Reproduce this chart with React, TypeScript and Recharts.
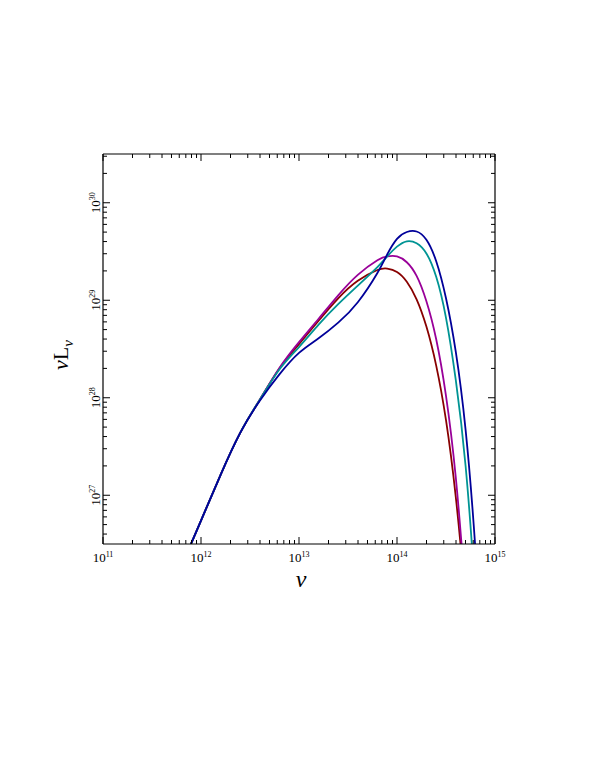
import { LineChart, Line, XAxis, YAxis } from "recharts"

// log10(nu) sample grid
const logNu = [
  11.8, 12.0, 12.2, 12.4, 12.6, 12.8, 13.0, 13.2, 13.4, 13.6, 13.8, 13.9, 14.0, 14.1, 14.2, 14.3,
  14.4, 14.5, 14.6, 14.7, 14.8, 14.9,
]

// log10(nu L_nu) for each curve
const redL = [
  26.27, 26.74, 27.21, 27.64, 27.98, 28.3, 28.55, 28.79, 29.02, 29.2, 29.31, 29.325, 29.29, 29.19,
  29.01, 28.73, 28.33, 27.77, 26.98, 25.9, 24.5, 22.8,
]
const purpleL = [
  26.27, 26.74, 27.21, 27.64, 27.98, 28.305, 28.57, 28.81, 29.05, 29.26, 29.41, 29.45, 29.45, 29.39,
  29.25, 28.99, 28.6, 28.02, 27.18, 25.95, 24.4, 22.5,
]
const tealL = [
  26.27, 26.74, 27.21, 27.64, 27.98, 28.29, 28.52, 28.75, 28.96, 29.15, 29.34, 29.45, 29.55, 29.605,
  29.585, 29.48, 29.24, 28.82, 28.18, 27.3, 25.95, 24.2,
]
const blueL = [
  26.27, 26.74, 27.21, 27.64, 27.97, 28.24, 28.46, 28.61, 28.77, 28.98, 29.28, 29.47, 29.63, 29.7,
  29.705, 29.62, 29.4, 29.02, 28.47, 27.67, 26.45, 24.8,
]

const X_DOMAIN: [number, number] = [11, 15]
const Y_DOMAIN: [number, number] = [26.5, 30.5]

const FONT = "'Liberation Serif', 'DejaVu Serif', serif"

function withMinors(lo: number, hi: number) {
  const out: number[] = []
  for (let d = Math.floor(lo); d <= Math.ceil(hi); d++) {
    for (let k = 1; k <= 9; k++) {
      const v = d + Math.log10(k)
      if (v >= lo - 1e-9 && v <= hi + 1e-9) out.push(v)
    }
  }
  return out
}

const xTicks = withMinors(X_DOMAIN[0], X_DOMAIN[1])
const yTicks = withMinors(Y_DOMAIN[0], Y_DOMAIN[1])

const isMajor = (v: number) => Math.abs(v - Math.round(v)) < 1e-6

const data = logNu.map((x, i) => ({
  x,
  red: redL[i],
  purple: purpleL[i],
  teal: tealL[i],
  blue: blueL[i],
}))

const MAJOR = 7
const MINOR = 4

const BottomTick = (props: any) => {
  const { x, y, payload } = props
  const major = isMajor(payload.value)
  return (
    <g>
      <line x1={x} x2={x} y1={y} y2={y - (major ? MAJOR : MINOR)} stroke="#000" strokeWidth={1} />
      {major && (
        <text x={x} y={y + 18} textAnchor="middle" fontSize={13} fontFamily={FONT} fill="#000">
          10
          <tspan dy={-5} fontSize={8}>
            {Math.round(payload.value)}
          </tspan>
        </text>
      )}
    </g>
  )
}

const TopTick = (props: any) => {
  const { x, y, payload } = props
  const major = isMajor(payload.value)
  return <line x1={x} x2={x} y1={y} y2={y + (major ? MAJOR : MINOR)} stroke="#000" strokeWidth={1} />
}

const LeftTick = (props: any) => {
  const { x, y, payload } = props
  const major = isMajor(payload.value)
  return (
    <g>
      <line x1={x} x2={x + (major ? MAJOR : MINOR)} y1={y} y2={y} stroke="#000" strokeWidth={1} />
      {major && (
        <text
          x={x - 3}
          y={y}
          transform={`rotate(-90, ${x - 3}, ${y})`}
          textAnchor="middle"
          fontSize={13}
          fontFamily={FONT}
          fill="#000"
        >
          10
          <tspan dy={-5} fontSize={8}>
            {Math.round(payload.value)}
          </tspan>
        </text>
      )}
    </g>
  )
}

const RightTick = (props: any) => {
  const { x, y, payload } = props
  const major = isMajor(payload.value)
  return <line x1={x} x2={x - (major ? MAJOR : MINOR)} y1={y} y2={y} stroke="#000" strokeWidth={1} />
}

const XLabel = (props: any) => {
  const vb = props.viewBox
  return (
    <text
      x={vb.x + vb.width / 2 + 2}
      y={vb.y + 43}
      textAnchor="middle"
      fontSize={24}
      fontStyle="italic"
      fontFamily={FONT}
      fill="#000"
    >
      ν
    </text>
  )
}

const YLabel = (props: any) => {
  const vb = props.viewBox
  const cx = vb.x + vb.width - 35
  const cy = vb.y + vb.height / 2 + 6
  return (
    <text
      x={cx}
      y={cy}
      transform={`rotate(-90, ${cx}, ${cy})`}
      textAnchor="middle"
      fontSize={22}
      fontFamily={FONT}
      fill="#000"
    >
      <tspan fontStyle="italic">ν</tspan>L
      <tspan fontSize={15} fontStyle="italic" dy={5}>
        ν
      </tspan>
    </text>
  )
}

export default function App() {
  return (
    <div style={{ position: "absolute", left: 0, top: 0, width: 595, height: 770, background: "#fff" }}>
      <LineChart width={595} height={770} data={data} margin={{ top: 153, right: 99, bottom: 225, left: 102 }}>
        <XAxis
          dataKey="x"
          type="number"
          domain={X_DOMAIN}
          ticks={xTicks}
          interval={0}
          allowDataOverflow
          height={1}
          tickSize={0}
          tickMargin={0}
          tick={<BottomTick />}
          axisLine={{ stroke: "#000", strokeWidth: 1.2 }}
          tickLine={false}
          label={<XLabel />}
        />
        <XAxis
          xAxisId="top"
          orientation="top"
          dataKey="x"
          type="number"
          domain={X_DOMAIN}
          ticks={xTicks}
          interval={0}
          allowDataOverflow
          height={1}
          tickSize={0}
          tickMargin={0}
          tick={<TopTick />}
          axisLine={{ stroke: "#000", strokeWidth: 1.2 }}
          tickLine={false}
        />
        <YAxis
          type="number"
          domain={Y_DOMAIN}
          ticks={yTicks}
          interval={0}
          allowDataOverflow
          width={1}
          tickSize={0}
          tickMargin={0}
          tick={<LeftTick />}
          axisLine={{ stroke: "#000", strokeWidth: 1.2 }}
          tickLine={false}
          label={<YLabel />}
        />
        <YAxis
          yAxisId="right"
          orientation="right"
          type="number"
          domain={Y_DOMAIN}
          ticks={yTicks}
          interval={0}
          allowDataOverflow
          width={1}
          tickSize={0}
          tickMargin={0}
          tick={<RightTick />}
          axisLine={{ stroke: "#000", strokeWidth: 1.2 }}
          tickLine={false}
        />
        <Line type="natural" dataKey="red" stroke="#880000" strokeWidth={1.8} dot={false} isAnimationActive={false} />
        <Line type="natural" dataKey="purple" stroke="#990099" strokeWidth={1.8} dot={false} isAnimationActive={false} />
        <Line type="natural" dataKey="teal" stroke="#009494" strokeWidth={1.8} dot={false} isAnimationActive={false} />
        <Line type="natural" dataKey="blue" stroke="#000099" strokeWidth={1.8} dot={false} isAnimationActive={false} />
      </LineChart>
    </div>
  )
}
